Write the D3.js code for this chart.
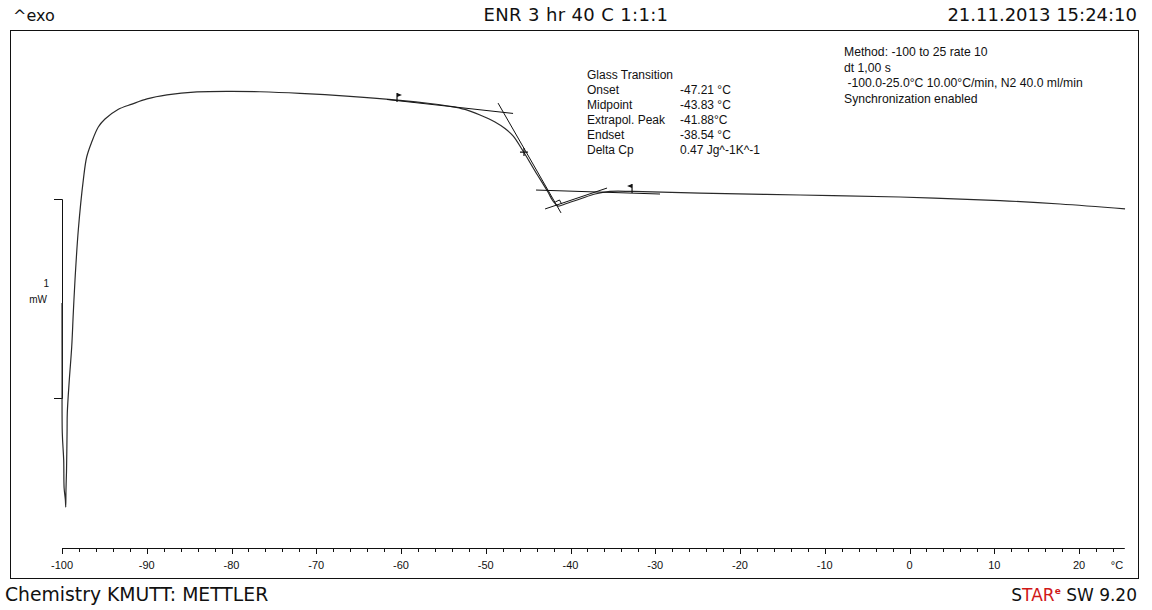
<!DOCTYPE html>
<html>
<head>
<meta charset="utf-8">
<script src="https://cdn.jsdelivr.net/npm/d3@7"></script>
<style>
  html, body { margin: 0; padding: 0; background: #fff; }
  svg { display: block; }
  text { font-family: "Liberation Sans", Arial, sans-serif; fill: #111; }
</style>
</head>
<body>
<svg id="chart" width="1152" height="610"></svg>
<script>
// ---- Data ----
const temperature = [
  -100.00, -99.99, -99.965, -99.80, -99.75, -99.60, -99.56,
  -99.53, -99.47, -99.40, -99.375, -99.14, -98.855, -98.667, -98.466,
  -98.077, -97.487, -97.086, -96.496, -95.717, -94.926, -93.392, -91.74,
  -89.97, -87.61, -84.07, -80.18, -76.64, -71.92, -66.02, -60.12,
  -56.58, -54.22, -52.45, -50.68, -48.91, -47.73, -46.78, -45.60, -44.19,
  -42.66, -42.07, -41.48, -40.65, -38.88, -37.11, -35.34, -32.62,
  -24.72, -12.92, -1.12, 10.68, 17.76, 25.43
];
const heatFlow = [
  0.477, 0.141, -0.176, -0.312, -0.452, -0.513, -0.548,
  -0.462, -0.372, -0.161, -0.075, 0.090, 0.256, 0.427, 0.593,
  0.844, 1.095, 1.211, 1.286, 1.362, 1.402, 1.450, 1.477,
  1.503, 1.523, 1.538, 1.541, 1.539, 1.531, 1.516, 1.496,
  1.480, 1.466, 1.450, 1.422, 1.387, 1.354, 1.317, 1.241, 1.141,
  1.035, 0.990, 0.965, 0.975, 1.000, 1.025, 1.038, 1.038,
  1.030, 1.020, 1.010, 0.992, 0.975, 0.950
];

// tick values of the temperature axis
const majorTicks = [-100, -90, -80, -70, -60, -50, -40, -30, -20, -10, 0, 10, 20];
const minorTicks = d3.range(-100, 25, 2);

// evaluation constructions (temperature, heat flow)
const tangentPre   = [[-61.65, 1.500], [-46.78, 1.430]];
const tangentInfl  = [[-48.55, 1.482], [-41.12, 0.930]];
const tangentPost  = [[-44.07, 1.045], [-29.44, 1.025]];
const peakLine     = [[-43.0, 0.950], [-35.69, 1.055]];
const flagMarks    = [[-60.47, 1.497, 1], [-32.74, 1.040, -1]];
const midpointMark = [-45.49, 1.236];
const rightAngle   = [[-41.8, 0.985], [-41.3, 0.995], [-41.05, 0.975]];

// texts
const resultLabels = ["Glass Transition", "Onset", "Midpoint", "Extrapol. Peak", "Endset", "Delta Cp"];
const resultValues = ["", "-47.21 °C", "-43.83 °C", "-41.88°C", "-38.54 °C", "0.47 Jg^-1K^-1"];
const methodLines  = ["Method: -100 to 25 rate 10", "dt 1,00 s", " -100.0-25.0°C 10.00°C/min, N2 40.0 ml/min", "Synchronization enabled"];

// ---- Drawing ----
const svg = d3.select("#chart");

const x = d3.scaleLinear().domain([-100, 25]).range([62, 1121.4]);
const y = d3.scaleLinear().domain([0, 1]).range([398, 199]);

// frame
svg.append("rect").attr("x", 10.5).attr("y", 30.5).attr("width", 1128).attr("height", 548)
  .attr("fill", "none").attr("stroke", "#111").attr("stroke-width", 1);

// header
svg.append("text").attr("x", 13).attr("y", 21).style("font-family", "DejaVu Sans")
  .style("font-size", "16px").text("^exo");
svg.append("text").attr("x", 576).attr("y", 21).attr("text-anchor", "middle")
  .style("font-family", "DejaVu Sans").style("font-size", "18px").style("letter-spacing", "0.35px")
  .text("ENR 3 hr 40 C 1:1:1");
svg.append("text").attr("x", 1137).attr("y", 21).attr("text-anchor", "end")
  .style("font-family", "DejaVu Sans").style("font-size", "18px").text("21.11.2013 15:24:10");

// footer
svg.append("text").attr("x", 5).attr("y", 601).style("font-family", "DejaVu Sans")
  .style("font-size", "18.8px").text("Chemistry KMUTT: METTLER");
const star = svg.append("text").attr("x", 1137).attr("y", 601).attr("text-anchor", "end")
  .style("font-family", "DejaVu Sans").style("font-size", "17px");
star.append("tspan").style("fill", "#111").text("S");
star.append("tspan").style("fill", "#d01818").text("TAR");
star.append("tspan").style("fill", "#d01818").style("font-size", "9px").style("font-weight", "bold").attr("dy", -7).text("e");
star.append("tspan").style("fill", "#111").attr("dy", 7).text(" SW 9.20");

// x axis
const axisY = 548;
const gAxis = svg.append("g");
gAxis.append("line").attr("x1", x(-100)).attr("x2", x(25.4)).attr("y1", axisY + 0.5).attr("y2", axisY + 0.5)
  .attr("stroke", "#111");
gAxis.selectAll("line.minor").data(minorTicks).join("line").attr("class", "minor")
  .attr("x1", d => Math.round(x(d)) + 0.5).attr("x2", d => Math.round(x(d)) + 0.5)
  .attr("y1", axisY).attr("y2", axisY + 4).attr("stroke", "#111");
gAxis.selectAll("line.major").data(majorTicks).join("line").attr("class", "major")
  .attr("x1", d => Math.round(x(d)) + 0.5).attr("x2", d => Math.round(x(d)) + 0.5)
  .attr("y1", axisY).attr("y2", axisY + 6).attr("stroke", "#111");
gAxis.selectAll("text").data(majorTicks).join("text")
  .attr("x", d => x(d)).attr("y", 569).attr("text-anchor", "middle")
  .style("font-size", "11px").text(d => d);
gAxis.append("text").attr("x", 1117).attr("y", 569).attr("text-anchor", "middle")
  .style("font-size", "11px").text("°C");

// scale bar (1 mW)
const sb = svg.append("g");
sb.append("path")
  .attr("d", `M54,${y(1)+0.5}H62.5V${y(0)+0.5}H54`)
  .attr("fill", "none").attr("stroke", "#111");
sb.append("text").attr("x", 49).attr("y", 287).attr("text-anchor", "end").style("font-size", "10px").text("1");
sb.append("text").attr("x", 47).attr("y", 303).attr("text-anchor", "end").style("font-size", "10px").text("mW");

// curve
const pts = temperature.map((t, i) => [t, heatFlow[i]]);
const lineLin = d3.line().x(d => x(d[0])).y(d => y(d[1]));
svg.append("path").attr("d", d3.line().x(d => x(d[0])).y(d => y(d[1])).curve(d3.curveCatmullRom.alpha(0.5))(pts))
  .attr("fill", "none").attr("stroke", "#2a2a2a").attr("stroke-width", 1.2);

// constructions
[tangentPre, tangentInfl, tangentPost, peakLine].forEach(seg => {
  svg.append("path").attr("d", lineLin(seg)).attr("fill", "none").attr("stroke", "#111").attr("stroke-width", 1);
});
svg.append("path").attr("d", lineLin(rightAngle)).attr("fill", "none").attr("stroke", "#111").attr("stroke-width", 1);

// midpoint cross
const mx = x(midpointMark[0]), my = y(midpointMark[1]);
svg.append("path").attr("d", `M${mx-4},${my}H${mx+4}M${mx},${my-4}V${my+4}`)
  .attr("stroke", "#111").attr("stroke-width", 1.2);

// flags
flagMarks.forEach(([t, v, dir]) => {
  const fx = x(t), fy = y(v);
  svg.append("path").attr("d", `M${fx},${fy+2}V${fy-7}`).attr("stroke", "#111").attr("stroke-width", 1.2);
  svg.append("path").attr("d", `M${fx},${fy-7}L${fx+5*dir},${fy-5}L${fx},${fy-3}Z`).attr("fill", "#111");
});

// result texts
const res = svg.append("g").style("font-size", "12px");
resultLabels.forEach((s, i) => {
  res.append("text").attr("x", 587).attr("y", 79 + i * 15).text(s);
  if (resultValues[i]) res.append("text").attr("x", 680).attr("y", 79 + i * 15).text(resultValues[i]);
});
const meth = svg.append("g").style("font-size", "12.2px");
methodLines.forEach((s, i) => {
  meth.append("text").attr("x", 844).attr("y", 56 + i * 15.7).attr("xml:space", "preserve")
    .style("white-space", "pre").text(s);
});
</script>
</body>
</html>
